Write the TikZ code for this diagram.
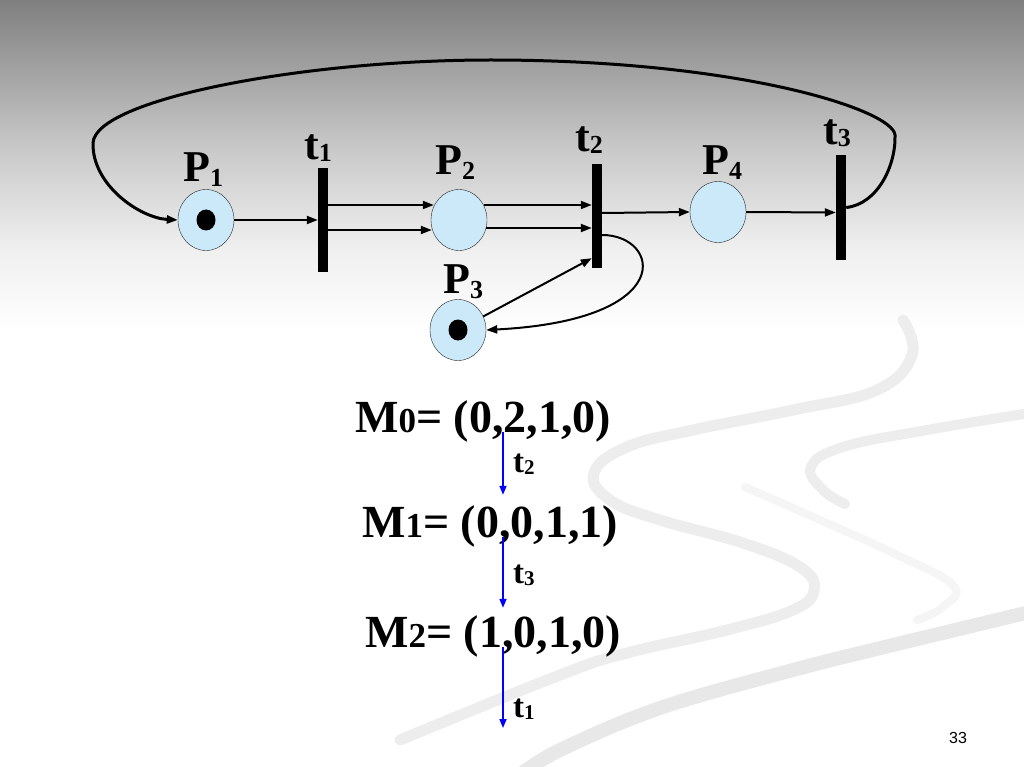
\documentclass[tikz,border=0pt]{standalone}
\usepackage{fontspec}
\setmainfont{Liberation Serif}
\newfontfamily\numfont{Liberation Sans}
\usetikzlibrary{shapes.geometric,arrows.meta}
\definecolor{placeblue}{RGB}{204,233,250}
\definecolor{swoosh}{RGB}{237,237,237}
\newcommand\lowsub[3]{\raisebox{#1}{\fontsize{#2}{#2}\selectfont #3}}
\begin{document}
\begin{tikzpicture}[x=1pt,y=-1pt,
  pnode/.style={ellipse,draw=black!85,thin,fill=placeblue,minimum width=56pt,minimum height=61pt,inner sep=0pt},
  tbar/.style={rectangle,fill=black,minimum width=10pt,minimum height=104pt,inner sep=0pt},
  tok/.style={ellipse,fill=black,minimum width=19pt,minimum height=21pt,inner sep=0pt},
  plabel/.style={anchor=base west,inner sep=0pt,font=\fontsize{44}{44}\selectfont\bfseries},
  mstate/.style={anchor=base west,inner sep=0pt,text height=32pt,text depth=0pt,font=\fontsize{46}{46}\selectfont\bfseries},
  tlab/.style={anchor=base west,inner sep=0pt,font=\fontsize{33}{33}\selectfont\bfseries},
  flow/.style={-{Triangle[length=11pt,width=8pt]},line width=2pt},
  fire/.style={-{Triangle[length=9pt,width=7pt]},blue,line width=1.6pt}]
 \useasboundingbox (0,0) rectangle (1024,767);
 \fill[white] (0,0) rectangle (1024,767);
 \shade[top color=black!50,bottom color=black!21] (0,0) rectangle (1024,150);
 \shade[top color=black!21,bottom color=black!6] (0,150) rectangle (1024,250);
 \shade[top color=black!6,bottom color=white] (0,250) rectangle (1024,330);
 \begin{scope}[swoosh,line cap=round]
  \draw[line width=11pt] plot[smooth,tension=0.7] coordinates {(903,320) (912,355) (877,390) (793,410) (693,430) (627,447) (594,473) (610,500) (660,520) (743,543) (800,567) (814,590) (793,610) (727,630) (627,653) (560,675) (400,740)};
  \draw[line width=10pt] plot[smooth,tension=0.7] coordinates {(1030,413) (927,430) (843,447) (811,467) (823,490) (845,504)};
  \draw[line width=8pt,black!4] plot[smooth,tension=0.7] coordinates {(745,487) (820,520) (893,553) (953,585) (943,607) (917,620)};
  \draw[line width=14pt,black!9] plot[smooth,tension=0.6] coordinates {(1030,612) (893,645) (793,670) (660,708) (560,750) (520,775)};
 \end{scope}
 \node[pnode] (p1) at (206,220) {};
 \node[pnode] (p2) at (459,220) {};
 \node[pnode] (p3) at (458,330) {};
 \node[pnode] (p4) at (718,212) {};
 \node[tok] (k1) at (p1) {};
 \node[tok] (k3) at (p3) {};
 \node[tbar] (t1) at (323,220) {};
 \node[tbar] (t2) at (597,216) {};
 \node[tbar] (t3) at (841,207.5) {};
 \node[plabel] (lp1) at (183,182) {P\lowsub{-5pt}{26}{1}};
 \node[plabel] (lp2) at (435,175) {P\lowsub{-5pt}{26}{2}};
 \node[plabel] (lp3) at (443,293) {P\lowsub{-5pt}{26}{3}};
 \node[plabel] (lp4) at (702,175) {P\lowsub{-5pt}{26}{4}};
 \node[plabel] (lt1) at (304,160) {t\lowsub{-2pt}{26}{1}};
 \node[plabel] (lt2) at (575,152) {t\lowsub{-2pt}{26}{2}};
 \node[plabel] (lt3) at (823,145) {t\lowsub{-2pt}{26}{3}};
 \draw[flow] (p1) -- (t1);
 \draw[flow] ([yshift=15pt]t1.east) -- ([yshift=15pt,xshift=3pt]p2.west);
 \draw[flow] ([yshift=-10pt]t1.east) -- ([yshift=-10pt,xshift=1pt]p2.west);
 \draw[flow] ([yshift=15pt,xshift=-3pt]p2.east) -- ([yshift=11pt]t2.west);
 \draw[flow] ([yshift=-8pt,xshift=-1pt]p2.east) -- ([yshift=-12pt]t2.west);
 \draw[flow] ([yshift=3pt]t2.east) -- (p4.west);
 \draw[flow] (p4.east) -- ([yshift=-5pt]t3.west);
 \draw[flow] (p3) -- ([yshift=10pt]t2.south west);
 \draw[flow] ([yshift=-19pt]t2.east) .. controls (660,235) and (680,320) .. (p3.east);
 \draw[flow,line width=3pt] (t3.east) .. controls (878,204) and (896,165) .. (895,135)
   .. controls (893,110) and (740,60) .. (491,60)
   .. controls (300,60) and (95,100) .. (93,143)
   .. controls (92,185) and (140,218) .. (p1.west);
 \node[mstate] (m0) at (355,432) {M\lowsub{0pt}{35}{0}= (0,2,1,0)};
 \node[mstate] (m1) at (362,537) {M\lowsub{0pt}{35}{1}= (0,0,1,1)};
 \node[mstate] (m2) at (365,647) {M\lowsub{0pt}{35}{2}= (1,0,1,0)};
 \coordinate (ax) at (503,0);
 \coordinate (mend) at (503,728);
 \draw[fire,shorten >=10pt] (m0.base -| ax) -- (m1.north -| ax);
 \draw[fire,shorten >=7pt] (m1.base -| ax) -- (m2.north -| ax);
 \draw[fire] (m2.base -| ax) -- (mend);
 \node[tlab] (f1) at (513,472) {t\lowsub{-2pt}{21}{2}};
 \node[tlab] (f2) at (513,583) {t\lowsub{-2pt}{21}{3}};
 \node[tlab] (f3) at (513,717) {t\lowsub{-2pt}{21}{1}};
 \node[font=\numfont\fontsize{16}{16}\selectfont] (pg) at (958,738) {33};
\end{tikzpicture}
\end{document}
